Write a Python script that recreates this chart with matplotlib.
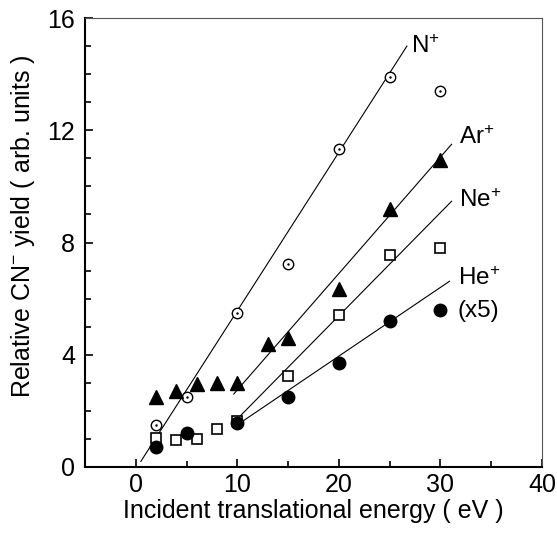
import numpy as np
import matplotlib.pyplot as plt
from matplotlib.ticker import MultipleLocator

plt.rcParams['font.family'] = ['Liberation Sans', 'DejaVu Sans']
plt.rcParams['mathtext.fontset'] = 'custom'
plt.rcParams['mathtext.rm'] = 'Liberation Sans'
plt.rcParams['mathtext.it'] = 'Liberation Sans'

# Datos
x_n = [2, 5, 10, 15, 20, 25, 30]
y_n = [1.5, 2.5, 5.5, 7.25, 11.35, 13.9, 13.4]

x_ar = [2, 4, 6, 8, 10, 13, 15, 20, 25, 30]
y_ar = [2.5, 2.7, 2.95, 3.0, 3.0, 4.4, 4.6, 6.35, 9.2, 10.95]

x_ne = [2, 4, 6, 8, 10, 15, 20, 25, 30]
y_ne = [1.05, 0.95, 1.0, 1.35, 1.65, 3.25, 5.43, 7.57, 7.8]

x_he = [2, 5, 10, 15, 20, 25, 30]
y_he = [0.7, 1.2, 1.56, 2.51, 3.7, 5.22, 5.6]

# Rectas de ajuste (extremos x, y)
fit_n = ([0.5, 26.7], [0.2, 15.0])
fit_ar = ([9.65, 31.1], [2.6, 11.5])
fit_ne = ([10.1, 31.1], [1.75, 9.47])
fit_he = ([10.4, 30.9], [1.6, 6.62])

fig = plt.figure(figsize=(5.57, 5.38), dpi=100)
ax = fig.add_axes([0.1526, 0.132, 0.8204, 0.8345])

for fx, fy in [fit_n, fit_ar, fit_ne, fit_he]:
    ax.plot(fx, fy, color='black', lw=0.8, zorder=1)

ax.plot(x_n, y_n, 'o', ms=7.5, mfc='white', mec='black', mew=1.0, zorder=3)
ax.plot(x_n, y_n, '.', ms=1.5, color='black', zorder=4)
ax.plot(x_ar, y_ar, '^', ms=10, color='black', zorder=3)
ax.plot(x_ne, y_ne, 's', ms=7.5, mfc='white', mec='black', mew=1.2, zorder=3)
ax.plot(x_he, y_he, 'o', ms=9, color='black', zorder=3)

# Etiquetas de cada serie
labels = [('N', 27.1, 15.0), ('Ar', 31.8, 11.75), ('Ne', 31.8, 9.5), ('He', 31.7, 6.7)]
for name, lx, ly in labels:
    ax.text(lx, ly, name + '$^{+}$', fontsize=17.5, va='center', ha='left')
ax.text(31.7, 5.55, '(x5)', fontsize=17.5, va='center', ha='left')

ax.set_xlim(-5, 40)
ax.set_ylim(0, 16)
ax.xaxis.set_major_locator(MultipleLocator(10))
ax.xaxis.set_minor_locator(MultipleLocator(5))
ax.yaxis.set_major_locator(MultipleLocator(4))
ax.yaxis.set_minor_locator(MultipleLocator(1))
ax.tick_params(which='both', direction='in', top=False, right=False,
               labelsize=18, width=1.2)
ax.tick_params(which='major', length=6)
ax.tick_params(which='minor', length=4)
ax.tick_params(axis='y', which='major', pad=7)
ax.tick_params(axis='x', which='major', pad=4)

ax.spines['left'].set_linewidth(1.5)
ax.spines['bottom'].set_linewidth(1.5)
ax.spines['top'].set_linewidth(0.8)
ax.spines['right'].set_linewidth(0.8)
ax.spines['top'].set_color('#555555')
ax.spines['right'].set_color('#555555')

ax.set_xlabel('Incident translational energy ( eV )', fontsize=18, labelpad=2)
ax.set_ylabel('Relative CN$^{-}$ yield ( arb. units )', fontsize=18)
ax.yaxis.set_label_coords(-0.105, 0.537)

fig.savefig('out.png', dpi=100)
